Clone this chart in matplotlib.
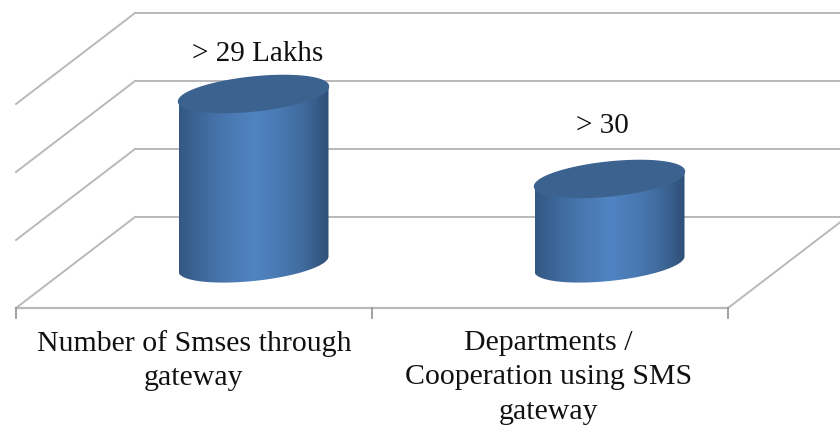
import numpy as np
import matplotlib
matplotlib.use("Agg")
import matplotlib.pyplot as plt
from matplotlib.colors import LinearSegmentedColormap
from matplotlib.patches import Polygon

categories = [
    "Number of Smses through\ngateway",
    "Departments /\nCooperation using SMS\ngateway",
]
values = [2.5, 1.25]
value_labels = ["> 29 Lakhs", "> 30"]
gridlines = [0, 1, 2, 3]

plt.rcParams["font.family"] = ["Liberation Serif", "DejaVu Serif"]

W, H = 840, 425
GRID = "#b9b9b9"
# one x unit = 356 px, one y unit = 68 px, full depth moves 119 px right / 91 px up
DX = 119 / 356
DY = 91 / 68
RX = 75 / 356
RY = 17 / 68
SHEAR = 7.5 / 68

fig = plt.figure(figsize=(W / 100, H / 100), dpi=100)
ax = fig.add_axes([16 / W, (H - 308) / H, 712 / W, 272 / H])
ax.set_xlim(0, 2)
ax.set_ylim(0, 4)
ax.axis("off")

side_cmap = LinearSegmentedColormap.from_list(
    "side", ["#345883", "#3f6a9e", "#4a79b2", "#5083c2", "#4a7ab4", "#3f6a9c", "#2f4f77"]
)


def depth(x, v, d):
    return x + d * DX, v + d * DY


def ellipse(cx, cy, t):
    return cx + RX * np.cos(t), cy + RY * np.sin(t) + SHEAR * np.cos(t)


# back wall and side walls
for v in gridlines:
    bx, by = depth(0, v, 1)
    ax.plot([0, bx], [v, by], color=GRID, lw=1.4, clip_on=False)
    ax.plot([bx, 2 + DX], [by, by], color=GRID, lw=1.4, clip_on=False)
rx, ry = depth(2, 0, 1)
ax.plot([2, rx], [0, ry], color=GRID, lw=1.4, clip_on=False)

# front edge of the floor and the ticks
ax.plot([0, 2], [0, 0], color=GRID, lw=1.6, clip_on=False)
for x in range(3):
    ax.plot([x, x], [0, -10 / 68], color="#9a9a9a", lw=1.3, clip_on=False)

t_front = np.linspace(0, -np.pi, 80)
t_all = np.linspace(0, 2 * np.pi, 160)
gradient = np.linspace(0, 1, 256).reshape(1, -1)

for i, (value, label) in enumerate(zip(values, value_labels)):
    cx, cy = depth(i + 0.5, 0, 0.5)
    cy -= 1.5 / 68
    top = cy + value

    bx, by = ellipse(cx, cy, t_front)
    tx, ty = ellipse(cx, top, t_front[::-1])
    side = Polygon(np.r_[np.c_[bx, by], np.c_[tx, ty]], closed=True, fc="none", ec="none", zorder=3)
    ax.add_patch(side)
    im = ax.imshow(
        gradient, cmap=side_cmap, aspect="auto", zorder=3,
        extent=[cx - RX, cx + RX, cy - 1, top + 1],
    )
    im.set_clip_path(side)

    ex, ey = ellipse(cx, top, t_all)
    ax.fill(ex, ey, color="#3c628f", zorder=4, clip_on=False)

    offset = [(4, 40), (-7, 53)][i]
    ax.annotate(
        label, (cx, top), xytext=(offset[0] * 0.72, offset[1] * 0.72),
        textcoords="offset points", ha="center", va="center",
        fontsize=21, color="#111111", annotation_clip=False,
    )

    ax.annotate(
        categories[i], (i + 0.5 - i * 0.004, 0), xytext=(0, -22 * 0.72),
        textcoords="offset points", ha="center", va="top",
        fontsize=21.5, color="#111111", linespacing=1.42, annotation_clip=False,
    )

ax.set_xlim(0, 2)
ax.set_ylim(0, 4)

fig.savefig("out.png", dpi=100)
